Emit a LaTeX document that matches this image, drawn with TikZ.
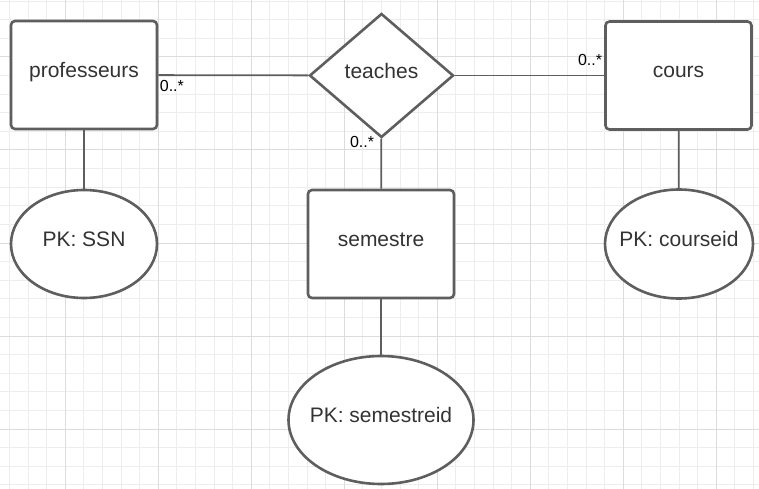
\documentclass[tikz,border=0pt]{standalone}
\usepackage{fontspec}
\setmainfont{Liberation Sans}
\usetikzlibrary{%
  shapes,%
  positioning%
}
\definecolor{linegray}{HTML}{5E5E5E}
\definecolor{textgray}{HTML}{333333}
\definecolor{gridminor}{HTML}{EDEDED}
\definecolor{gridmajor}{HTML}{DCDCDC}

\begin{document}
\begin{tikzpicture}
[x=1pt, y=-1pt, line width=1.8pt,
entity/.style={rectangle, rounded corners=4pt, draw=linegray, fill=white, line width=2.6pt, text=textgray, text height=15pt, text depth=10pt, minimum width=146pt, minimum height=108pt, font=\fontsize{21}{24}\selectfont},
relation/.style={diamond, draw=linegray, fill=white, line width=2.6pt, text=textgray, text height=15pt, text depth=8pt, inner sep=0pt, minimum width=144pt, minimum height=124pt, font=\fontsize{21}{24}\selectfont},
attribute/.style={ellipse, draw=linegray, fill=white, line width=2.6pt, text=textgray, text height=15pt, text depth=10pt, inner xsep=-16pt, inner ysep=0pt, font=\fontsize{21}{24}\selectfont},
card/.style={text=black, inner sep=0pt, font=\fontsize{16}{18}\selectfont},
link/.style={draw=linegray, line width=1.8pt}]

\useasboundingbox[fill=white] (0,0) rectangle (759,489);

% raster
\foreach \i in {0,...,40}
	\draw[gridminor, line width=1pt] ({9.5+18.6*\i},0) -- ({9.5+18.6*\i},489);
\foreach \i in {0,...,26}
	\draw[gridminor, line width=1pt] (0,{1.2+18.6*\i}) -- (759,{1.2+18.6*\i});
\foreach \i in {0,...,7}
	\draw[gridmajor, line width=1pt] ({65.3+93*\i},0) -- ({65.3+93*\i},489);
\foreach \i in {0,...,5}
	\draw[gridmajor, line width=1pt] (0,{57+93*\i}) -- (759,{57+93*\i});

% Entitaeten und Beziehung
\node[entity] (professeurs) at (84,75) {professeurs};
\node[relation] (teaches) at (381.5,75.5) {teaches};
\node[entity] (cours) at (678.5,75.5) {cours};
\node[entity] (semestre) at (381,244) {semestre};

% Schluessel
\node[attribute, minimum width=146pt, minimum height=108pt] (ssn) at (84,244) {PK: SSN};
\node[attribute, minimum width=185pt, minimum height=128pt] (semestreid) at (381,420) {PK: semestreid};
\node[attribute, minimum width=148pt, minimum height=109pt] (courseid) at (679,244) {PK: courseid};

\draw[link] (professeurs) -- (teaches);
\draw[link] (teaches) -- (cours);
\draw[link] (teaches) -- (semestre);
\draw[link] (professeurs) -- (ssn);
\draw[link] (cours) -- (courseid);
\draw[link] (semestre) -- (semestreid);

% Kardinalitaeten
\node[card, anchor=west] (cardprof) at (159,86) {0..*};
\node[card, anchor=east] (cardcours) at (603,60) {0..*};
\node[card, anchor=east] (cardsem) at (375,142) {0..*};
\end{tikzpicture}
\end{document}
